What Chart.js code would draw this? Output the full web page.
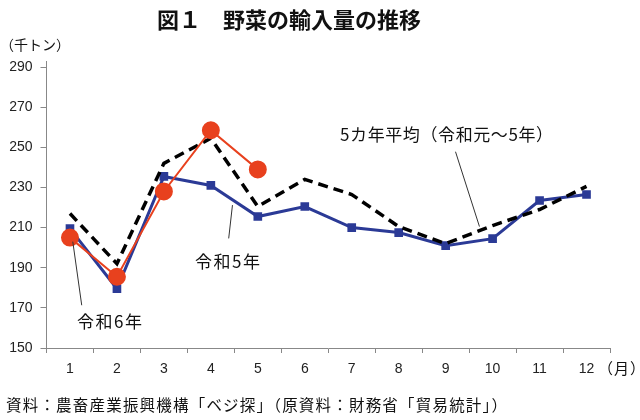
<!DOCTYPE html>
<html>
<head>
<meta charset="utf-8">
<script src="https://cdn.jsdelivr.net/npm/chart.js@4/dist/chart.umd.min.js"></script>
<style>
html,body{margin:0;padding:0;background:#fff;}
#c{display:block;}
</style>
</head>
<body>
<canvas id="c" width="640" height="420"></canvas>
<script>
const months = ['1','2','3','4','5','6','7','8','9','10','11','12'];
const r6 = [205, 185.5, 228, 258.5, 239];
const r5 = [209.5, 179.5, 235.5, 231, 215.5, 220.5, 210, 207.5, 201, 204.5, 223.5, 226.5];
const avg5 = [217, 192, 242, 254.5, 220.5, 234, 226.5, 210.5, 202, 211, 219, 230.5];
const yTicks = [150, 170, 190, 210, 230, 250, 270, 290];

const JP = '"Noto Sans CJK JP", "Noto Sans", sans-serif';
const NUM = '"Liberation Sans", Arial, sans-serif';

const overlay = {
  id: 'overlay',
  afterDraw(chart) {
    const ctx = chart.ctx;
    const xs = chart.scales.x, ys = chart.scales.y;
    const px = v => xs.getPixelForValue(0) + v * (xs.getPixelForValue(1) - xs.getPixelForValue(0));
    const py = v => ys.getPixelForValue(v);
    ctx.save();
    ctx.fillStyle = '#111';
    ctx.textBaseline = 'middle';
    ctx.textAlign = 'left';
    // title
    ctx.font = 'bold 22px ' + JP;
    ctx.fillText('図１　野菜の輸入量の推移', 157, 20);
    // unit
    ctx.font = '14px ' + JP;
    ctx.fillText('（千トン）', 0, 45);
    // month unit
    ctx.font = '15px ' + JP;
    ctx.letterSpacing = '1px';
    ctx.fillText('（月）', 598, 368);
    // source
    ctx.font = '15.5px ' + JP;
    ctx.letterSpacing = '1.2px';
    ctx.fillText('資料：農畜産業振興機構「ベジ探」（原資料：財務省「貿易統計」）', 6, 405);
    ctx.letterSpacing = '0px';
    // leader lines
    ctx.strokeStyle = '#333';
    ctx.lineWidth = 1;
    const lines = [
      [0.25, 171.3, 0.06, 203.0],
      [3.38, 204.6, 3.46, 221.2],
      [8.21, 247.8, 8.72, 210.5]
    ];
    lines.forEach(l => {
      ctx.beginPath();
      ctx.moveTo(px(l[0]), py(l[1]));
      ctx.lineTo(px(l[2]), py(l[3]));
      ctx.stroke();
    });
    // annotation labels
    ctx.font = '17px ' + JP;
    ctx.letterSpacing = '1.5px';
    ctx.fillText('令和6年', 77, 322);
    ctx.fillText('令和5年', 195, 262);
    ctx.letterSpacing = '0.6px';
    ctx.fillText('5カ年平均（令和元～5年）', 340, 135);
    ctx.restore();
  }
};

new Chart(document.getElementById('c'), {
  type: 'line',
  data: {
    labels: months,
    datasets: [
      {
        label: '令和6年',
        data: r6,
        borderColor: '#E8411E',
        backgroundColor: '#E8411E',
        borderWidth: 2,
        pointRadius: 8,
        pointHoverRadius: 8,
        pointStyle: 'circle',
        tension: 0
      },
      {
        label: '5カ年平均（令和元～5年）',
        data: avg5,
        borderColor: '#000',
        borderWidth: 3.5,
        borderDash: [10, 6],
        pointRadius: 0,
        tension: 0
      },
      {
        label: '令和5年',
        data: r5,
        borderColor: '#2B3A96',
        backgroundColor: '#2B3A96',
        borderWidth: 3,
        pointStyle: 'rect',
        pointRadius: 4,
        pointHoverRadius: 4,
        tension: 0
      }
    ]
  },
  options: {
    responsive: false,
    devicePixelRatio: 1,
    animation: false,
    events: [],
    layout: { padding: { left: 0, top: 61, right: 30, bottom: 42 } },
    plugins: { legend: { display: false }, tooltip: { enabled: false }, title: { display: false } },
    scales: {
      x: {
        offset: true,
        afterFit(s) { s.height = 30; },
        grid: { offset: true, drawOnChartArea: false, tickLength: 5, color: '#888' },
        border: { color: '#888', width: 1 },
        ticks: { color: '#222', font: { family: NUM, size: 14 }, padding: 8, maxRotation: 0 }
      },
      y: {
        min: 150,
        max: 293,
        afterFit(s) { s.width = 46.5; },
        afterBuildTicks(s) { s.ticks = yTicks.map(v => ({ value: v })); },
        grid: { drawOnChartArea: false, tickLength: 6, color: '#888' },
        border: { color: '#888', width: 1 },
        ticks: { color: '#222', font: { family: NUM, size: 14 }, padding: 8 }
      }
    }
  },
  plugins: [overlay]
});
</script>
</body>
</html>
